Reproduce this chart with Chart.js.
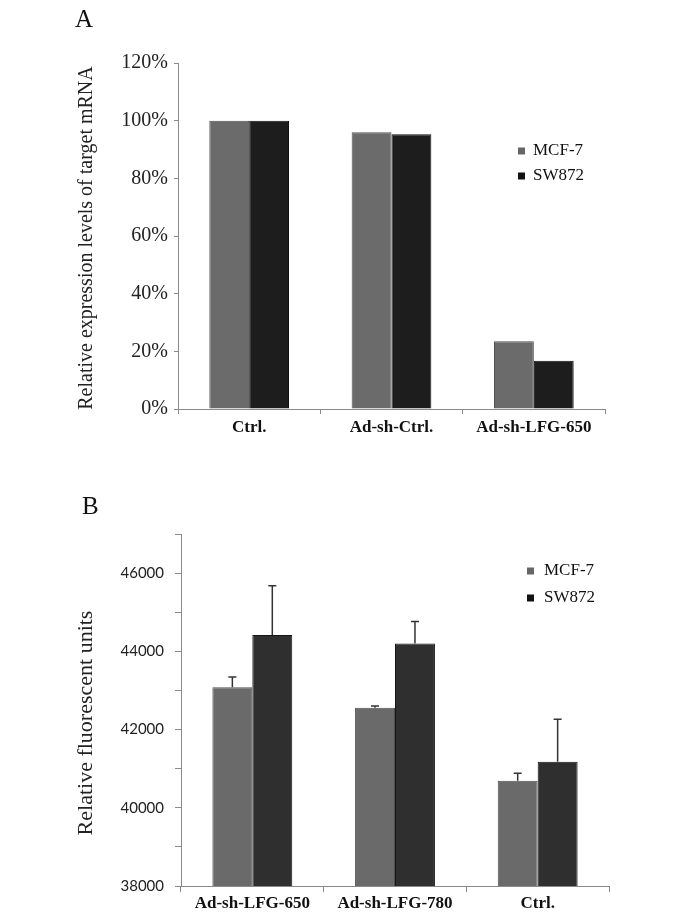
<!DOCTYPE html>
<html>
<head>
<meta charset="utf-8">
<script src="https://cdn.jsdelivr.net/npm/chart.js@4"></script>
<style>
  html, body { margin: 0; padding: 0; background: #fff; }
  body { width: 688px; height: 922px; position: relative; overflow: hidden; }
  canvas { position: absolute; left: 0; }
  #chartA { top: 0; }
  #chartB { top: 460px; }
</style>
</head>
<body>
<canvas id="chartA" width="688" height="460"></canvas>
<canvas id="chartB" width="688" height="462"></canvas>
<script>
// Panel A: relative expression of target mRNA (%)
const groupsA = ["Ctrl.", "Ad-sh-Ctrl.", "Ad-sh-LFG-650"];
const mcf7A = [100, 96, 23.5];
const sw872A = [100, 95.3, 16.7];
const ticksA = [0, 20, 40, 60, 80, 100, 120];

// Panel B: relative fluorescent units, upper error bars only
const groupsB = ["Ad-sh-LFG-650", "Ad-sh-LFG-780", "Ctrl."];
const mcf7B = [43080, 42560, 40690];
const mcf7ErrB = [265, 40, 190];
const sw872B = [44420, 44200, 41180];
const sw872ErrB = [1255, 565, 1085];
const ticksB = [38000, 39000, 40000, 41000, 42000, 43000, 44000, 45000, 46000, 47000];
const labelledTicksB = [38000, 40000, 42000, 44000, 46000];

Chart.defaults.font.family = '"Liberation Serif", serif';
Chart.defaults.color = '#222';

const axisGray = '#8a8a8a';

// draws the upper error bar of each bar, from its value to value + error
const errorBars = {
  id: 'errorBars',
  afterDatasetsDraw(chart) {
    const ctx = chart.ctx;
    const yScale = chart.scales.y;
    chart.data.datasets.forEach((ds, i) => {
      if (!ds.errors) return;
      chart.getDatasetMeta(i).data.forEach((bar, j) => {
        const top = yScale.getPixelForValue(ds.data[j] + ds.errors[j]);
        ctx.save();
        ctx.strokeStyle = '#333';
        ctx.lineWidth = 1.5;
        ctx.beginPath();
        ctx.moveTo(bar.x, bar.y);
        ctx.lineTo(bar.x, top);
        ctx.moveTo(bar.x - 4, top);
        ctx.lineTo(bar.x + 4, top);
        ctx.stroke();
        ctx.restore();
      });
    });
  }
};

// panel letter, rotated y title and the small legend inside the plot
const decor = {
  id: 'decor',
  afterDraw(chart, args, opts) {
    const ctx = chart.ctx;
    ctx.save();
    ctx.fillStyle = '#111';
    ctx.font = '25px "Liberation Serif"';
    ctx.textBaseline = 'alphabetic';
    ctx.fillText(opts.letter, opts.letterX, opts.letterY);

    ctx.save();
    ctx.translate(opts.yTitleX, opts.yTitleY);
    ctx.rotate(-Math.PI / 2);
    ctx.textAlign = 'center';
    ctx.textBaseline = 'middle';
    ctx.font = opts.yTitleFont;
    ctx.fillStyle = '#222';
    ctx.fillText(opts.yTitle, 0, 0);
    ctx.restore();

    ctx.font = opts.legendFont;
    ctx.textBaseline = 'middle';
    chart.data.datasets.forEach((ds, i) => {
      const yy = opts.legendY + i * opts.legendGap;
      ctx.fillStyle = ds.legendColor;
      ctx.fillRect(opts.legendX, yy - 3.5, 7, 7);
      ctx.fillStyle = '#111';
      ctx.fillText(ds.label, opts.legendX + opts.textGap, yy);
    });
    ctx.restore();
  }
};

new Chart(document.getElementById("chartA"), {
  type: "bar",
  data: {
    labels: groupsA,
    datasets: [
      { label: "MCF-7", data: mcf7A, backgroundColor: "#6b6b6b", borderColor: "#505050", borderWidth: 1,
        legendColor: "#666666", categoryPercentage: 0.56, barPercentage: 1 },
      { label: "SW872", data: sw872A, backgroundColor: "#1d1d1d", borderColor: "#111111", borderWidth: 1,
        legendColor: "#111111", categoryPercentage: 0.56, barPercentage: 1 }
    ]
  },
  options: {
    responsive: false,
    animation: false,
    layout: { padding: { left: 0, top: 63, right: 83, bottom: 21 } },
    plugins: {
      legend: { display: false },
      tooltip: { enabled: false },
      decor: { letter: "A", letterX: 75, letterY: 27,
               yTitle: "Relative expression levels of target mRNA", yTitleX: 87, yTitleY: 238,
               yTitleFont: '20px "Liberation Serif"',
               legendX: 518, legendY: 151, legendGap: 25, textGap: 15, legendFont: '17px "Liberation Serif"' }
    },
    scales: {
      x: {
        grid: { offset: true, drawOnChartArea: false, tickLength: 5, color: axisGray },
        border: { color: axisGray },
        ticks: { font: { size: 17, weight: "bold" }, color: "#111", padding: 3 },
        afterFit: s => { s.height = 30; }
      },
      y: {
        min: 0, max: 120,
        grid: { drawOnChartArea: false, tickLength: 4, color: axisGray },
        border: { color: axisGray },
        afterBuildTicks: s => { s.ticks = ticksA.map(v => ({ value: v })); },
        ticks: { font: { size: 20 }, color: "#222", padding: 6, callback: v => v + "%" },
        afterFit: s => { s.width = 178; }
      }
    }
  },
  plugins: [decor]
});

new Chart(document.getElementById("chartB"), {
  type: "bar",
  data: {
    labels: groupsB,
    datasets: [
      { label: "MCF-7", data: mcf7B, errors: mcf7ErrB, backgroundColor: "#6a6a6a", borderColor: "#505050", borderWidth: 1,
        legendColor: "#666666", categoryPercentage: 0.56, barPercentage: 1 },
      { label: "SW872", data: sw872B, errors: sw872ErrB, backgroundColor: "#2f2f2f", borderColor: "#151515", borderWidth: 1,
        legendColor: "#111111", categoryPercentage: 0.56, barPercentage: 1 }
    ]
  },
  options: {
    responsive: false,
    animation: false,
    layout: { padding: { left: 0, top: 74, right: 79, bottom: 6 } },
    plugins: {
      legend: { display: false },
      tooltip: { enabled: false },
      decor: { letter: "B", letterX: 82, letterY: 54,
               yTitle: "Relative fluorescent units", yTitleX: 86, yTitleY: 263,
               yTitleFont: '22px "Liberation Serif"',
               legendX: 527, legendY: 111, legendGap: 27, textGap: 17, legendFont: '17px "Liberation Serif"' }
    },
    scales: {
      x: {
        grid: { offset: true, drawOnChartArea: false, tickLength: 6, color: axisGray },
        border: { color: axisGray },
        ticks: { font: { size: 17, weight: "bold" }, color: "#111", padding: 1 },
        afterFit: s => { s.height = 30; }
      },
      y: {
        min: 38000, max: 47000,
        grid: { drawOnChartArea: false, tickLength: 6, color: axisGray },
        border: { color: axisGray },
        afterBuildTicks: s => { s.ticks = ticksB.map(v => ({ value: v })); },
        ticks: { autoSkip: false, font: { family: "Lato", size: 15 }, color: "#222", padding: 11,
                 callback: v => labelledTicksB.includes(v) ? String(v) : "" },
        afterFit: s => { s.width = 181; }
      }
    }
  },
  plugins: [errorBars, decor]
});
</script>
</body>
</html>
